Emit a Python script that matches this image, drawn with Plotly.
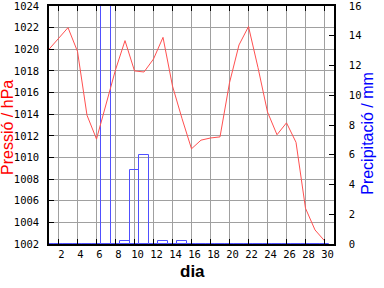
import plotly.graph_objects as go

dies = list(range(1, 31))
pressio = [1020.0, 1021.0, 1022.0, 1019.8, 1013.9, 1011.7, 1014.8, 1018.1, 1020.8, 1018.0,
           1017.9, 1019.1, 1021.1, 1016.6, 1013.6, 1010.8, 1011.6, 1011.8, 1011.9, 1016.9,
           1020.4, 1022.1, 1018.3, 1014.2, 1012.1, 1013.2, 1011.4, 1005.3, 1003.3, 1002.3]
precip = [0, 0, 0, 0, 0, 0, 30.0, 0, 0.2, 5.0,
          6.0, 0, 0.2, 0, 0.2, 0, 0, 0, 0, 0,
          0, 0, 0, 0, 0, 0, 0, 0, 0, 0]
x_ticks = list(range(2, 31, 2))
p_ticks = list(range(1002, 1025, 2))
r_ticks = list(range(0, 17, 2))

W, H = 384, 288
L, R, T, B = 49, 50, 0, 44
pw, ph = W - L - R, H - T - B

def px(x):
    return (x - L) / pw

def py(y):
    return (H - B - y) / ph

tickfont = dict(family="DejaVu Sans Mono", size=10.5, color="black")

fig = go.Figure()
fig.add_trace(go.Bar(x=dies, y=precip, width=1.0, yaxis="y",
                     marker=dict(color="rgba(0,0,0,0)",
                                 line=dict(color="rgb(80,80,255)", width=1)),
                     showlegend=False))
fig.add_trace(go.Scatter(x=dies, y=pressio, yaxis="y2", mode="lines",
                         line=dict(color="rgb(255,80,80)", width=1),
                         showlegend=False))

fig.update_layout(
    width=W, height=H, margin=dict(l=L, r=R, t=T, b=B, pad=0),
    paper_bgcolor="white", plot_bgcolor="white",
    bargap=0,
    xaxis=dict(range=[1, 31], tickvals=x_ticks, ticks="inside", ticklen=5,
               tickcolor="black", showgrid=True, gridcolor="#a0a0a0", gridwidth=1,
               showline=True, linecolor="black", linewidth=1.5, mirror="ticks",
               tickfont=tickfont, ticklabelshift=3, ticklabelstandoff=0, zeroline=False,
               ticklabeloverflow="allow"),
    yaxis=dict(range=[0, 16], tickvals=r_ticks, side="right", ticks="inside", ticklen=5,
               tickcolor="black", showgrid=False, showline=True, linecolor="black",
               linewidth=1.5, tickfont=tickfont, ticklabelstandoff=11, zeroline=False,
               ticklabeloverflow="allow"),
    yaxis2=dict(range=[1002, 1024], tickvals=p_ticks, side="left", overlaying="y",
                ticks="inside", ticklen=5, tickcolor="black", showgrid=True,
                gridcolor="#a0a0a0", gridwidth=1, showline=True, linecolor="black",
                linewidth=1.5, tickfont=tickfont, ticklabelstandoff=6, zeroline=False,
                ticklabeloverflow="allow"),
    annotations=[
        dict(text="Pressió / hPa", xref="paper", yref="paper", x=px(8), y=py(125),
             xanchor="center", yanchor="middle", textangle=-90, showarrow=False,
             font=dict(family="Liberation Sans", size=16, color="red")),
        dict(text="Precipitació / mm", xref="paper", yref="paper", x=px(368), y=py(131),
             xanchor="center", yanchor="middle", textangle=-90, showarrow=False,
             font=dict(family="Liberation Sans", size=16, color="blue")),
        dict(text="<b>dia</b>", xref="paper", yref="paper", x=px(192), y=py(272),
             xanchor="center", yanchor="middle", showarrow=False,
             font=dict(family="Liberation Sans", size=17, color="black")),
    ],
)

fig.write_html("out.html")
